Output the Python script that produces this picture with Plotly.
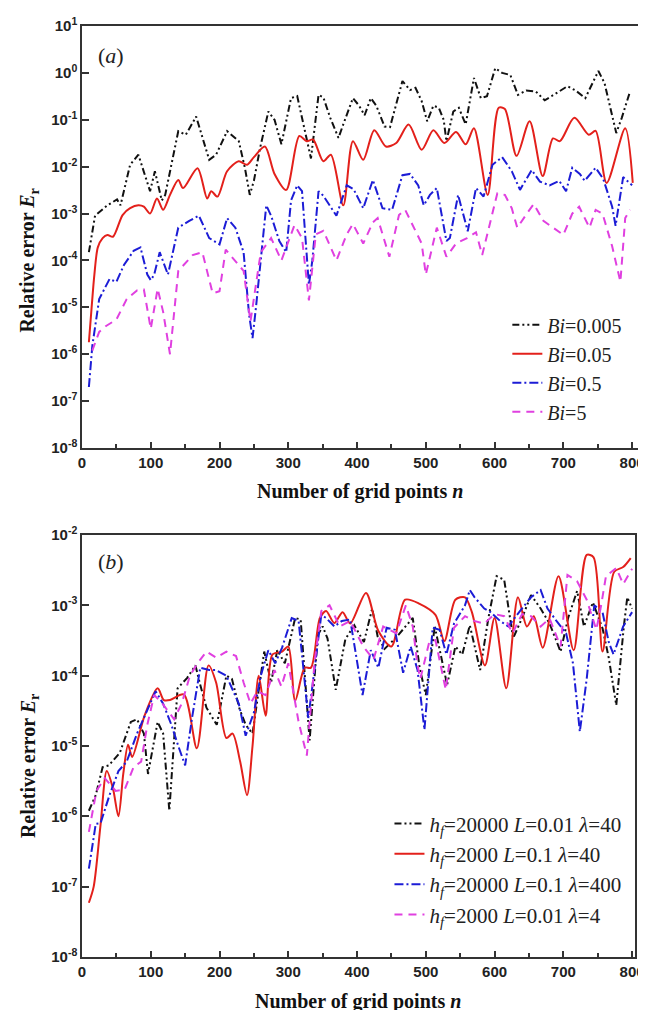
import plotly.graph_objects as go

# ---------------- Panel (a) data ----------------
a_bi0005_n = [10, 19, 37, 51, 56, 70, 82, 99, 106, 116, 121, 140, 151, 166, 185, 195, 211, 228, 237, 244, 250, 259, 271, 280, 290, 304, 313, 333, 344, 351, 361, 373, 380, 394, 403, 411, 420, 428, 440, 448, 466, 477, 485, 494, 502, 511, 519, 526, 530, 540, 548, 558, 570, 580, 589, 601, 611, 623, 634, 646, 660, 673, 690, 706, 718, 732, 751, 760, 777, 785, 797]
a_bi0005_v = [1.5e-4, 9e-4, 1.5e-3, 2e-3, 1.5e-3, 1.1e-2, 1.8e-2, 3e-3, 8e-3, 1.9e-3, 2.5e-3, 0.057, 0.048, 0.117, 0.014, 0.018, 0.057, 0.035, 0.0093, 0.0025, 0.005, 0.025, 0.15, 0.1, 0.03, 0.29, 0.32, 0.015, 0.34, 0.3, 0.11, 0.041, 0.08, 0.29, 0.2, 0.125, 0.29, 0.2, 0.072, 0.07, 0.67, 0.43, 0.48, 0.25, 0.093, 0.2, 0.18, 0.1, 0.035, 0.15, 0.18, 0.08, 0.78, 0.29, 0.32, 1.26, 1.0, 0.9, 0.34, 0.42, 0.4, 0.26, 0.37, 0.52, 0.42, 0.29, 1.1, 0.6, 0.052, 0.11, 0.4]

a_bi005_n = [10, 14, 18, 23, 30, 37, 45, 59, 70, 82, 90, 99, 109, 118, 128, 140, 147, 168, 182, 188, 197, 211, 228, 240, 250, 266, 280, 297, 316, 327, 336, 351, 362, 380, 394, 409, 425, 442, 457, 475, 494, 511, 527, 544, 558, 570, 590, 606, 615, 632, 651, 670, 685, 695, 716, 737, 747, 763, 790, 801]
a_bi005_v = [1.8e-6, 1e-5, 5e-5, 1.9e-4, 3e-4, 3.5e-4, 3.2e-4, 9.3e-4, 1.3e-3, 1.5e-3, 1.4e-3, 1.0e-3, 2.1e-3, 1.2e-3, 2.5e-3, 5.2e-3, 3.5e-3, 9.3e-3, 2.1e-3, 3e-3, 2.3e-3, 8e-3, 0.013, 0.011, 0.016, 0.027, 7e-3, 3.2e-3, 0.045, 0.035, 0.038, 0.013, 0.018, 1.5e-3, 0.035, 0.014, 0.06, 0.027, 0.032, 0.079, 0.023, 0.06, 0.032, 0.055, 0.03, 0.066, 2.5e-3, 0.18, 0.17, 0.017, 0.093, 6.3e-3, 0.04, 0.035, 0.11, 0.048, 0.058, 4.5e-3, 0.066, 4.5e-3]

a_bi05_n = [10, 15, 25, 40, 50, 61, 75, 85, 95, 100, 105, 113, 125, 140, 156, 170, 185, 200, 211, 223, 235, 243, 248, 253, 268, 275, 287, 297, 304, 313, 320, 326, 330, 335, 344, 351, 370, 385, 395, 409, 423, 437, 451, 466, 477, 489, 497, 506, 516, 530, 535, 547, 561, 573, 584, 597, 611, 625, 637, 654, 666, 680, 694, 704, 713, 724, 731, 747, 758, 771, 776, 787, 800]
a_bi05_v = [2e-7, 1.5e-6, 1.5e-5, 4e-5, 3.5e-5, 8e-5, 1.6e-4, 1.9e-4, 5e-5, 3.8e-5, 5e-5, 1.5e-4, 5e-5, 5e-4, 7e-4, 9e-4, 3e-4, 2.2e-4, 8e-4, 5e-4, 1.5e-4, 7e-6, 2.2e-6, 1e-5, 1.5e-3, 9e-4, 2.6e-4, 1.5e-4, 1.9e-3, 4e-3, 3e-3, 2e-4, 3e-5, 1e-4, 3e-3, 2.4e-3, 9e-4, 4e-3, 3.3e-3, 1.3e-3, 5.2e-3, 1.3e-3, 1.2e-3, 6.6e-3, 7e-3, 4e-3, 1.5e-3, 2.5e-3, 3.5e-3, 2.6e-4, 3e-4, 2.5e-3, 4.2e-4, 3.5e-3, 2.3e-3, 0.011, 0.016, 8e-3, 3.2e-3, 8.5e-3, 4.8e-3, 4e-3, 5e-3, 3e-3, 9.5e-3, 7e-3, 5e-3, 9.5e-3, 5.5e-3, 1.4e-3, 5.5e-4, 6e-3, 4e-3]

a_bi5_n = [15, 25, 35, 50, 65, 80, 90, 100, 110, 118, 128, 140, 161, 175, 190, 200, 209, 222, 235, 245, 260, 275, 290, 309, 320, 330, 340, 351, 370, 385, 394, 409, 423, 430, 447, 461, 470, 494, 500, 516, 530, 544, 560, 573, 582, 604, 615, 625, 633, 647, 657, 671, 686, 700, 713, 723, 738, 747, 757, 771, 783, 790, 797]
a_bi5_v = [1.2e-6, 3e-6, 4e-6, 5.5e-6, 1.5e-5, 2.3e-5, 2.4e-5, 3.5e-6, 2.5e-5, 8e-6, 1e-6, 6e-5, 1.3e-4, 1.5e-4, 2e-5, 2.2e-5, 1.7e-4, 1e-4, 6e-5, 5e-6, 1.5e-4, 3e-4, 1e-4, 5.7e-4, 3e-4, 1.4e-5, 3.6e-4, 4.3e-4, 1e-4, 3.6e-4, 6e-4, 2.3e-4, 6.5e-4, 8e-4, 1.2e-4, 9.3e-4, 1.2e-3, 2.3e-4, 5e-5, 5e-4, 1.2e-4, 2.3e-4, 3e-4, 4e-4, 1.3e-4, 2.7e-3, 2.5e-3, 1.3e-3, 5e-4, 1e-3, 1.6e-3, 7e-4, 5e-4, 3.5e-4, 1e-3, 1.4e-3, 5e-4, 1.2e-3, 1e-3, 2e-4, 3.5e-5, 8e-4, 1.2e-3]

# ---------------- Panel (b) data ----------------
b_s1_n = [10, 20, 30, 39, 55, 71, 80, 90, 96, 110, 118, 127, 139, 153, 165, 171, 181, 196, 210, 218, 229, 238, 248, 265, 275, 284, 295, 310, 318, 327, 331, 343, 350, 357, 369, 383, 396, 410, 422, 430, 440, 457, 470, 481, 491, 500, 513, 531, 543, 553, 564, 579, 591, 603, 614, 627, 640, 653, 667, 680, 696, 707, 720, 730, 743, 757, 766, 777, 788, 793, 800]
b_s1_v = [1.2e-6, 2e-6, 5e-6, 5.3e-6, 8e-6, 2.2e-5, 2.4e-5, 1.5e-5, 4e-6, 2.2e-5, 1.5e-5, 1.2e-6, 6.6e-5, 9.3e-5, 1.4e-4, 8e-5, 3.5e-5, 2e-5, 1e-4, 9e-5, 3.4e-5, 2e-5, 1.5e-5, 2.2e-4, 8e-5, 2.3e-4, 1.5e-4, 6.6e-4, 6.3e-4, 3.5e-5, 1.2e-5, 3.8e-4, 5e-4, 3.4e-4, 6.3e-5, 3.3e-4, 5.2e-4, 3e-4, 9e-4, 3.6e-4, 2.4e-4, 3.5e-4, 5e-4, 6.6e-4, 1.3e-4, 5.3e-5, 5e-4, 7.4e-5, 2.6e-4, 2e-4, 5.2e-4, 1.2e-4, 6.6e-4, 2.6e-3, 2.3e-3, 3.4e-4, 6.6e-4, 1.4e-3, 9e-4, 5.5e-4, 2.2e-4, 6.6e-4, 1.6e-3, 5e-4, 1.1e-3, 4.7e-4, 1.8e-4, 3.8e-5, 5e-4, 1.3e-3, 9e-4]

b_s2_n = [10, 17, 27, 36, 45, 53, 60, 67, 73, 91, 110, 119, 128, 148, 167, 184, 195, 210, 219, 230, 240, 248, 257, 267, 277, 291, 300, 310, 324, 333, 346, 355, 367, 379, 390, 413, 431, 450, 470, 491, 514, 527, 543, 557, 567, 586, 600, 617, 634, 647, 657, 670, 693, 715, 734, 744, 757, 774, 787, 798]
b_s2_v = [5.9e-8, 1e-7, 7.6e-7, 4.4e-6, 2.5e-6, 1e-6, 4e-6, 1.04e-5, 7e-6, 2.7e-5, 6.6e-5, 4.5e-5, 4.5e-5, 5.4e-5, 9.3e-6, 1.4e-4, 8e-5, 1.3e-5, 1.5e-5, 6e-6, 2e-6, 1e-5, 1e-4, 2.7e-5, 2e-4, 2.2e-4, 2.6e-4, 4.4e-5, 1.3e-4, 1.3e-4, 6.6e-4, 8.3e-4, 5.6e-4, 8e-4, 5.5e-4, 1.5e-3, 4.3e-4, 2.6e-4, 1.2e-3, 1.05e-3, 7.3e-4, 3.1e-4, 1.2e-3, 1.3e-3, 8e-4, 1.4e-4, 6.6e-4, 6.6e-5, 1.3e-3, 5e-4, 7e-4, 2.5e-4, 2.6e-3, 2.3e-4, 5.2e-3, 4.8e-3, 2.2e-4, 3e-3, 3.5e-3, 4.7e-3]

b_s3_n = [10, 20, 27, 40, 53, 65, 80, 96, 107, 118, 130, 140, 150, 160, 172, 185, 195, 210, 228, 238, 250, 260, 271, 281, 291, 305, 315, 323, 329, 335, 348, 355, 367, 378, 390, 408, 420, 431, 443, 455, 467, 478, 488, 498, 510, 520, 530, 541, 557, 564, 571, 585, 594, 608, 620, 631, 653, 667, 677, 690, 704, 714, 724, 734, 745, 757, 766, 773, 787, 800]
b_s3_v = [1.8e-7, 7.8e-7, 8e-7, 2e-6, 4.4e-6, 6e-6, 1.5e-5, 3.5e-5, 6e-5, 4e-5, 2e-5, 1e-5, 5.3e-6, 2.5e-5, 1.3e-4, 1.2e-4, 1.2e-4, 1e-4, 4e-5, 1.4e-5, 3e-5, 1e-4, 2.3e-4, 1.5e-4, 2.5e-4, 6.6e-4, 6e-4, 1e-4, 2.5e-5, 7e-5, 7.3e-4, 6.6e-4, 5e-4, 6e-4, 6.3e-4, 5.3e-5, 2.3e-4, 1.3e-4, 4.8e-4, 4.5e-4, 1.1e-4, 2.6e-4, 1.2e-4, 1.7e-5, 4.8e-4, 4.5e-4, 2e-4, 5.5e-4, 1e-3, 1.65e-3, 1.3e-3, 9e-4, 8e-4, 6e-4, 5e-4, 7e-4, 1.3e-3, 1.65e-3, 9e-4, 6e-4, 4e-4, 1.5e-4, 1.6e-5, 9e-5, 1e-3, 8e-4, 3e-4, 2e-4, 5e-4, 8e-4]

b_s4_n = [10, 21, 33, 49, 62, 75, 86, 95, 105, 117, 134, 145, 157, 168, 181, 195, 210, 224, 235, 245, 255, 267, 280, 290, 300, 315, 327, 338, 348, 360, 375, 390, 409, 424, 438, 457, 471, 481, 488, 492, 505, 514, 529, 541, 557, 570, 585, 600, 614, 626, 640, 653, 667, 680, 696, 706, 720, 734, 748, 755, 762, 777, 787, 800]
b_s4_v = [6e-7, 2.3e-6, 3.5e-6, 2.3e-6, 2.4e-6, 5e-6, 6e-6, 2e-5, 5.3e-5, 4e-5, 2.4e-5, 4e-5, 1e-4, 1.5e-4, 2.2e-4, 1.8e-4, 2.2e-4, 1.9e-4, 8e-5, 4e-5, 6e-5, 5.3e-5, 1.2e-4, 7e-5, 1.5e-4, 2.2e-5, 7.3e-6, 1.5e-4, 8.3e-4, 1e-3, 5e-4, 6e-4, 2.6e-4, 1.7e-4, 5e-4, 4e-4, 1e-3, 5e-4, 1.4e-4, 9e-5, 3e-4, 3.2e-4, 6.3e-5, 4.8e-4, 7e-4, 6e-4, 5.5e-4, 7.5e-4, 7e-4, 4e-4, 7.5e-4, 7e-4, 5e-4, 6.5e-4, 2.6e-4, 2.7e-3, 2.2e-3, 1.2e-3, 4.5e-4, 1e-3, 2.6e-3, 3.4e-3, 2e-3, 3.3e-3]

a_names = ["<i>Bi</i>=0.005", "<i>Bi</i>=0.05", "<i>Bi</i>=0.5", "<i>Bi</i>=5"]
b_names = ["<i>h</i><sub><i>f</i></sub>=20000 <i>L</i>=0.01 <i>λ</i>=40",
           "<i>h</i><sub><i>f</i></sub>=2000 <i>L</i>=0.1 <i>λ</i>=40",
           "<i>h</i><sub><i>f</i></sub>=20000 <i>L</i>=0.1 <i>λ</i>=400",
           "<i>h</i><sub><i>f</i></sub>=2000 <i>L</i>=0.01 <i>λ</i>=4"]

x_ticks = [0, 100, 200, 300, 400, 500, 600, 700, 800]
a_yticks = [-8, -7, -6, -5, -4, -3, -2, -1, 0, 1]
b_yticks = [-8, -7, -6, -5, -4, -3, -2]

colors = ["#111111", "#e3201b", "#1c1cd6", "#e040e0"]
dashes = ["7px,3px,2px,3px,2px,3px", "solid", "9px,3px,2px,3px", "8px,6px"]
shapes = ["linear", "spline", "linear", "linear"]

SERIF = "Liberation Serif"
SANS = "Liberation Sans"

fig = go.Figure()

a_data = [(a_bi0005_n, a_bi0005_v), (a_bi005_n, a_bi005_v), (a_bi05_n, a_bi05_v), (a_bi5_n, a_bi5_v)]
for i, (n, v) in enumerate(a_data):
    fig.add_trace(go.Scatter(x=n, y=v, mode="lines", name=a_names[i],
                             line=dict(color=colors[i], width=2, dash=dashes[i], shape=shapes[i], smoothing=0.8),
                             xaxis="x", yaxis="y", legend="legend"))

b_data = [(b_s1_n, b_s1_v), (b_s2_n, b_s2_v), (b_s3_n, b_s3_v), (b_s4_n, b_s4_v)]
for i, (n, v) in enumerate(b_data):
    fig.add_trace(go.Scatter(x=n, y=v, mode="lines", name=b_names[i],
                             line=dict(color=colors[i], width=2, dash=dashes[i], shape=shapes[i], smoothing=0.8),
                             xaxis="x2", yaxis="y2", legend="legend2"))

tickfont = dict(family=SANS, size=15, color="#222222")

def ytxt(e):
    return "<b>10<sup>%d</sup></b>" % e

xcommon = dict(tickmode="array", tickvals=x_ticks, ticktext=["<b>%d</b>" % t for t in x_ticks],
               ticks="inside", ticklen=6, tickwidth=1.5, tickcolor="#333333",
               minor=dict(dtick=50, tick0=0, ticks="inside", ticklen=4, tickwidth=1.5, tickcolor="#333333"),
               showline=True, linecolor="#333333", linewidth=1.5, mirror=True,
               showgrid=False, zeroline=False, tickfont=tickfont)
ycommon = dict(type="log", ticks="inside", ticklen=7, tickwidth=1.5, tickcolor="#333333",
               showline=True, linecolor="#333333", linewidth=1.5, mirror=True,
               showgrid=False, zeroline=False, tickfont=tickfont)

fig.update_layout(
    width=646, height=1010,
    margin=dict(l=74, r=6, t=18, b=61),
    paper_bgcolor="white", plot_bgcolor="white",
    xaxis=dict(domain=[0, 1], range=[0, 808.6], anchor="y", **xcommon),
    yaxis=dict(domain=[0.5467, 1], range=[-8, 1], anchor="x",
               tickvals=[10.0 ** e for e in a_yticks], ticktext=[ytxt(e) for e in a_yticks], **ycommon),
    xaxis2=dict(domain=[0, 0.9947], range=[0, 804.3], anchor="y2", **xcommon),
    yaxis2=dict(domain=[0, 0.4533], range=[-8, -2], anchor="x2",
                tickvals=[10.0 ** e for e in b_yticks], ticktext=[ytxt(e) for e in b_yticks], **ycommon),
    legend=dict(x=0.765, y=0.70, xanchor="left", yanchor="top", bgcolor="rgba(0,0,0,0)",
                font=dict(family=SERIF, size=20, color="#222222"), tracegroupgap=0),
    legend2=dict(x=0.553, y=0.165, xanchor="left", yanchor="top", bgcolor="rgba(0,0,0,0)",
                 font=dict(family=SERIF, size=21, color="#222222"), tracegroupgap=0),
    showlegend=True,
)

title_font = dict(family=SERIF, size=20, color="#111111")
label_font = dict(family=SERIF, size=22, color="#222222")
annots = [
    dict(text="<b>Number of grid points <i>n</i></b>", x=0.5, y=0.4995, font=title_font, textangle=0),
    dict(text="<b>Number of grid points <i>n</i></b>", x=0.4973, y=-0.0475, font=title_font, textangle=0),
    dict(text="<b>Relative error <i>E</i><sub>r</sub></b>", x=-0.0954, y=0.748, font=title_font, textangle=-90),
    dict(text="<b>Relative error <i>E</i><sub>r</sub></b>", x=-0.0954, y=0.205, font=title_font, textangle=-90),
    dict(text="(<i>a</i>)", x=0.053, y=0.9678, font=label_font, textangle=0),
    dict(text="(<i>b</i>)", x=0.053, y=0.4243, font=label_font, textangle=0),
]
for a in annots:
    fig.add_annotation(xref="paper", yref="paper", showarrow=False, xanchor="center", yanchor="middle", **a)

fig.write_html("out.html")
